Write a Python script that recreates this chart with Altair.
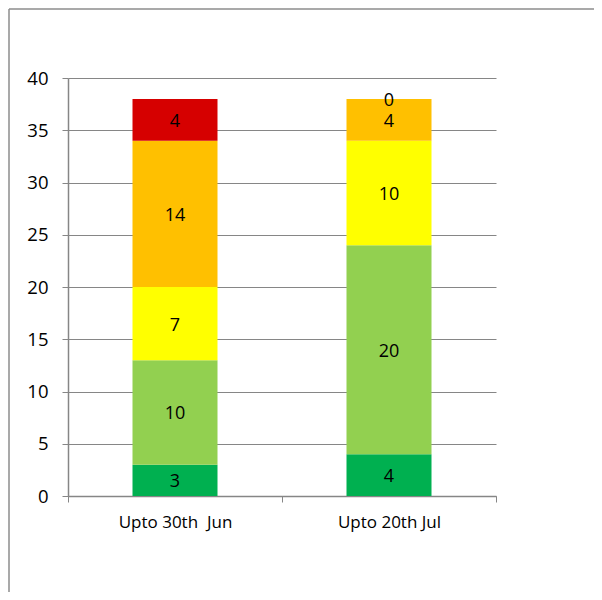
import altair as alt
import pandas as pd

categories = ["Upto 30th\u00a0 Jun", "Upto 20th Jul"]
series = ["Green", "Light green", "Yellow", "Amber", "Red"]
colors = ["#00B050", "#92D050", "#FFFF00", "#FFC000", "#D60000"]

green = [3, 4]
light_green = [10, 20]
yellow = [7, 10]
amber = [14, 4]
red = [4, 0]

y_ticks = [0, 5, 10, 15, 20, 25, 30, 35, 40]

series_values = [green, light_green, yellow, amber, red]
rows = []
for si, (name, vals) in enumerate(zip(series, series_values)):
    for ci, cat in enumerate(categories):
        rows.append({"category": cat, "series": name, "order": si, "value": vals[ci]})
df = pd.DataFrame(rows)

FONT = "Open Sans"
GRID = "#868686"

x_enc = alt.X(
    "category:N",
    sort=categories,
    scale=alt.Scale(paddingInner=0, paddingOuter=0),
    axis=alt.Axis(
        title=None, labelAngle=0, tickBand="extent", domainColor=GRID,
        tickColor=GRID, tickSize=6, labelFontSize=17, labelFont=FONT,
        labelColor="black", labelPadding=12, grid=False, domainWidth=1.5,
    ),
)

bars = alt.Chart(df).mark_bar(size=85).encode(
    x=x_enc,
    y=alt.Y(
        "value:Q",
        stack="zero",
        scale=alt.Scale(domain=[0, 40], nice=False),
        axis=alt.Axis(
            title=None, values=y_ticks, grid=True, gridColor=GRID,
            domainColor=GRID, tickColor=GRID, tickSize=6, labelPadding=14,
            labelFontSize=18.5, labelFont=FONT, labelColor="black",
            domainWidth=1.5,
        ),
    ),
    color=alt.Color("series:N", scale=alt.Scale(domain=series, range=colors), legend=None),
    order=alt.Order("order:Q"),
)

labels = alt.Chart(df).transform_stack(
    stack="value", groupby=["category"], sort=[alt.SortField("order")], as_=["y0", "y1"]
).transform_calculate(
    mid="(datum.y0 + datum.y1) / 2"
).mark_text(fontSize=18, font=FONT, color="black", baseline="middle", dy=2).encode(
    x=alt.X("category:N", sort=categories),
    y=alt.Y("mid:Q"),
    text=alt.Text("value:Q"),
)

one = pd.DataFrame({"a": [0]})
frame_top = alt.Chart(one).mark_rule(color="#8c8c8c", strokeWidth=1.5).encode(
    x=alt.value(-59), x2=alt.value(526), y=alt.value(-69)
)
frame_left = alt.Chart(one).mark_rule(color="#8c8c8c", strokeWidth=1.5).encode(
    x=alt.value(-59), y=alt.value(-69), y2=alt.value(514)
)

chart = alt.layer(bars, labels, frame_top, frame_left).properties(
    width=428,
    height=418,
    padding={"left": 60, "top": 70, "right": 98, "bottom": 96},
    autosize="none",
).configure_view(stroke=None)

chart.save("out.html", embed_options={"renderer": "svg", "actions": False})
